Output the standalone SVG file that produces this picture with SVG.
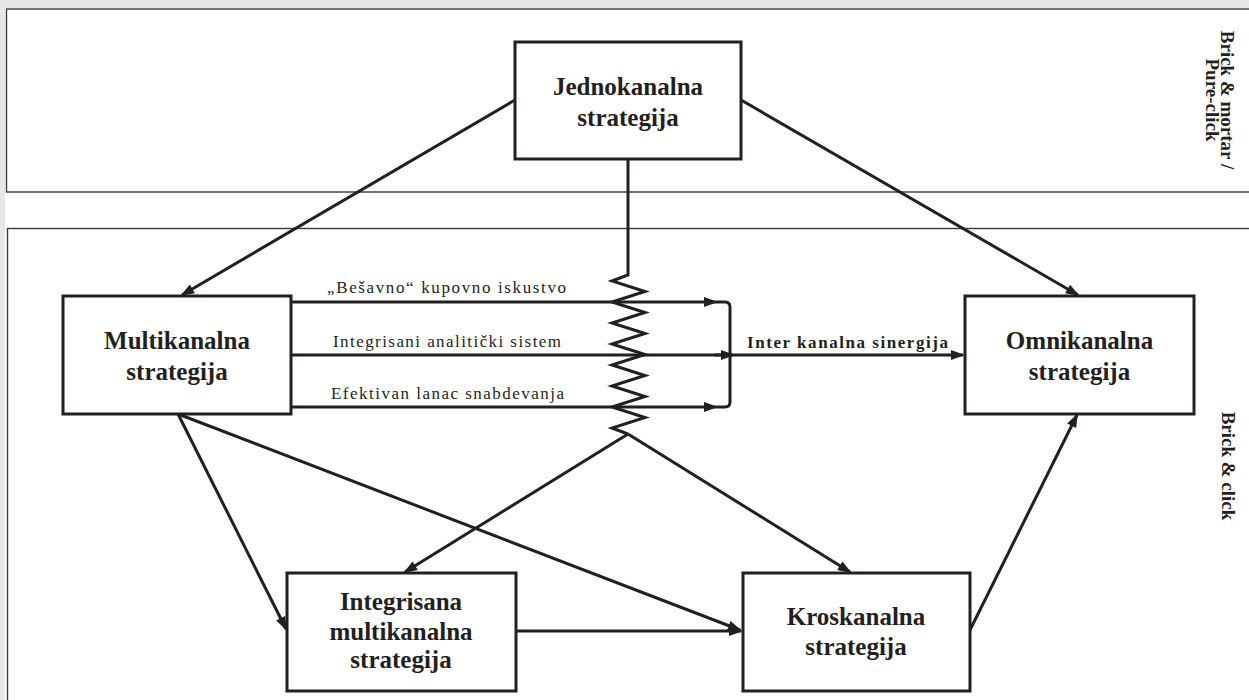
<svg xmlns="http://www.w3.org/2000/svg" width="1249" height="700" viewBox="0 0 1249 700">
<style>
.box{fill:#fff;stroke:#231f20;stroke-width:3}
.band{fill:#fff;stroke:#3a3a3a;stroke-width:1.4}
.ln{fill:none;stroke:#231f20;stroke-width:3}
.bt{font-family:"Liberation Serif","Times New Roman",serif;font-weight:bold;font-size:25px;fill:#231f20;text-anchor:middle}
.lt{font-family:"Liberation Serif","Times New Roman",serif;font-size:17px;fill:#231f20}
.st{font-family:"Liberation Serif","Times New Roman",serif;font-weight:bold;font-size:19px;fill:#231f20;text-anchor:middle}
</style>
<defs>
<marker id="ah" markerUnits="userSpaceOnUse" markerWidth="14" markerHeight="10" refX="12" refY="5" orient="auto" overflow="visible">
<path d="M0,0 L14,5 L0,10 z" fill="#231f20"/>
</marker>
</defs>
<rect x="0" y="0" width="1249" height="700" fill="#e6e7e9"/>
<rect x="5" y="8" width="1244" height="692" fill="#fff"/>
<g id="bands">
<rect class="band" x="6.5" y="9" width="1260" height="183"/>
<rect class="band" x="7.5" y="228.5" width="1260" height="490"/>
<text class="st" transform="translate(1221,100) rotate(90)">Brick &amp; mortar /</text>
<text class="st" transform="translate(1206,100) rotate(90)">Pure-click</text>
<text class="st" transform="translate(1222,466) rotate(90)">Brick &amp; click</text>
</g>
<g id="connectors">
<path class="ln" d="M515,100 L182,295" marker-end="url(#ah)"/>
<path class="ln" d="M741,100 L1078,295" marker-end="url(#ah)"/>
<path class="ln" d="M628,160 V275 L612,281 L645,291.5 L612,302 L645,312.5 L612,323 L645,333.5 L612,344 L645,354.5 L612,365 L645,375.5 L612,386 L645,396.5 L612,407 L645,417.5 L612,428 L628,434"/>
<path class="ln" d="M291,302 H716" marker-end="url(#ah)"/>
<path class="ln" d="M291,407 H716" marker-end="url(#ah)"/>
<path class="ln" d="M716,302 H725 Q730,302 730,307 V402 Q730,407 725,407 H716"/>
<path class="ln" d="M291,355 H963" marker-end="url(#ah)"/>
<path class="ln" d="M715,355 H733" marker-end="url(#ah)"/>
<path class="ln" d="M628,434 L405,572" marker-end="url(#ah)"/>
<path class="ln" d="M628,434 L850,572" marker-end="url(#ah)"/>
<path class="ln" d="M178,414 L286,629" marker-end="url(#ah)"/>
<path class="ln" d="M178,414 L740,630" marker-end="url(#ah)"/>
<path class="ln" d="M516,631 H741" marker-end="url(#ah)"/>
<path class="ln" d="M970,630 L1077,415" marker-end="url(#ah)"/>
<text class="lt" x="327" y="293" textLength="239" lengthAdjust="spacing">„Bešavno“ kupovno iskustvo</text>
<text class="lt" x="333" y="347" textLength="228" lengthAdjust="spacing">Integrisani analitički sistem</text>
<text class="lt" x="331" y="399" textLength="233" lengthAdjust="spacing">Efektivan lanac snabdevanja</text>
<text class="lt" x="747" y="348" font-weight="bold" font-size="18" textLength="201" lengthAdjust="spacing">Inter kanalna sinergija</text>
</g>
<g id="jednokanalna">
<rect class="box" x="515" y="42" width="226" height="117"/>
<text class="bt" x="628" y="95">Jednokanalna</text>
<text class="bt" x="628" y="126">strategija</text>
</g>
<g id="multikanalna">
<rect class="box" x="63" y="296" width="228" height="118"/>
<text class="bt" x="177" y="349">Multikanalna</text>
<text class="bt" x="177" y="380">strategija</text>
</g>
<g id="omnikanalna">
<rect class="box" x="965" y="296" width="229" height="118"/>
<text class="bt" x="1079.5" y="349">Omnikanalna</text>
<text class="bt" x="1079.5" y="380">strategija</text>
</g>
<g id="integrisana">
<rect class="box" x="287" y="573" width="229" height="118"/>
<text class="bt" x="401" y="610">Integrisana</text>
<text class="bt" x="401" y="640">multikanalna</text>
<text class="bt" x="401" y="668">strategija</text>
</g>
<g id="kroskanalna">
<rect class="box" x="743" y="573" width="227" height="118"/>
<text class="bt" x="856" y="625">Kroskanalna</text>
<text class="bt" x="856" y="655">strategija</text>
</g>
</svg>
